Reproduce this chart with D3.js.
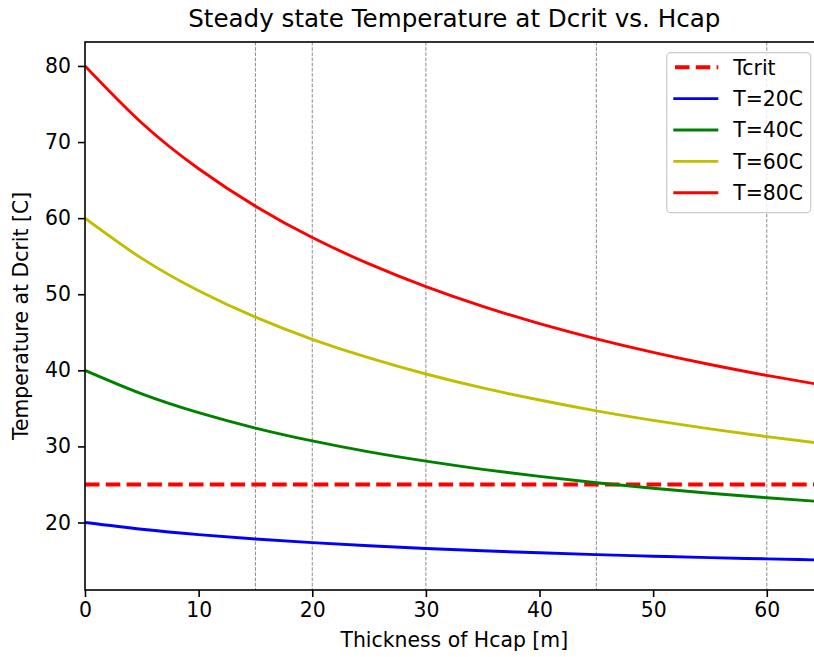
<!DOCTYPE html>
<html>
<head>
<meta charset="utf-8">
<script src="https://cdn.jsdelivr.net/npm/d3@7"></script>
<style>
  html, body { margin: 0; padding: 0; background: #fff; }
  svg { display: block; font-family: "DejaVu Sans", sans-serif; }
</style>
</head>
<body>
<svg id="chart" width="814" height="657"></svg>
<script>
// Hcap thickness samples [m]
const thickness = [0, 5, 10, 15, 20, 25, 30, 35, 40, 45, 50, 55, 60, 65];

// Steady state temperature at Dcrit [C] for each surface temperature
const temp20 = [20.0, 19.12, 18.41, 17.83, 17.35, 16.94, 16.59, 16.28, 16.02, 15.78, 15.57, 15.38, 15.22, 15.06];
const temp40 = [40.0, 36.91, 34.44, 32.41, 30.72, 29.28, 28.06, 26.99, 26.06, 25.23, 24.50, 23.84, 23.25, 22.72];
const temp60 = [60.0, 54.71, 50.46, 46.99, 44.08, 41.63, 39.52, 37.69, 36.10, 34.68, 33.43, 32.30, 31.29, 30.37];
const temp80 = [80.0, 72.50, 66.49, 61.57, 57.45, 53.98, 50.99, 48.40, 46.14, 44.14, 42.36, 40.76, 39.33, 38.03];

const tCrit = 25;
const markerThickness = [15, 20, 30, 45, 60];

const seriesNames = ["T=20C", "T=40C", "T=60C", "T=80C"];
const seriesValues = [temp20, temp40, temp60, temp80];
const seriesColors = ["#0000ff", "#008000", "#bfbf00", "#ff0000"];

const xTicks = [0, 10, 20, 30, 40, 50, 60];
const yTicks = [20, 30, 40, 50, 60, 70, 80];

// ---- layout ----
const svg = d3.select("#chart");
const plot = { left: 85, top: 42, right: 823.6, bottom: 590 };
const fontSize = 20.4;

const x = d3.scaleLinear().domain([0, 65]).range([plot.left, plot.right]);
const y = d3.scaleLinear().domain([11.13, 83.15]).range([plot.bottom, plot.top]);

svg.append("defs").append("clipPath").attr("id", "plot-clip")
  .append("rect")
  .attr("x", plot.left).attr("y", plot.top)
  .attr("width", plot.right - plot.left).attr("height", plot.bottom - plot.top);

const body = svg.append("g").attr("clip-path", "url(#plot-clip)");

// vertical reference lines at selected thicknesses
body.selectAll("line.vref").data(markerThickness).join("line")
  .attr("class", "vref")
  .attr("x1", d => x(d)).attr("x2", d => x(d))
  .attr("y1", plot.top).attr("y2", plot.bottom)
  .attr("stroke", "#808080").attr("stroke-width", 0.9)
  .attr("stroke-dasharray", "3.6,1.6");

// critical temperature
body.append("line")
  .attr("x1", plot.left).attr("x2", plot.right)
  .attr("y1", y(tCrit)).attr("y2", y(tCrit))
  .attr("stroke", "#ff0000").attr("stroke-width", 3.9)
  .attr("stroke-dasharray", "14.5,6.3");

// temperature curves
const line = d3.line()
  .x((d, i) => x(thickness[i]))
  .y(d => y(d))
  .curve(d3.curveNatural);

body.selectAll("path.series").data(seriesValues).join("path")
  .attr("class", "series")
  .attr("d", d => line(d))
  .attr("fill", "none")
  .attr("stroke", (d, i) => seriesColors[i])
  .attr("stroke-width", 2.9);

// ---- axes ----
const xAxis = d3.axisBottom(x).tickValues(xTicks).tickSize(7).tickPadding(6).tickSizeOuter(0);
const yAxis = d3.axisLeft(y).tickValues(yTicks).tickSize(7).tickPadding(7).tickSizeOuter(0);

const gx = svg.append("g").attr("transform", `translate(0,${plot.bottom})`).call(xAxis);
const gy = svg.append("g").attr("transform", `translate(${plot.left},0)`).call(yAxis);

[gx, gy].forEach(g => {
  g.select(".domain").remove();
  g.selectAll(".tick line").attr("stroke", "#000").attr("stroke-width", 1.6);
  g.selectAll(".tick text")
    .attr("fill", "#000")
    .style("font-family", "DejaVu Sans")
    .style("font-size", fontSize + "px");
});

// spines
svg.append("rect")
  .attr("x", plot.left).attr("y", plot.top)
  .attr("width", plot.right - plot.left).attr("height", plot.bottom - plot.top)
  .attr("fill", "none").attr("stroke", "#000").attr("stroke-width", 1.6);

// ---- labels ----
svg.append("text")
  .attr("x", (plot.left + plot.right) / 2).attr("y", 27)
  .attr("text-anchor", "middle")
  .style("font-size", "24.6px")
  .text("Steady state Temperature at Dcrit vs. Hcap");

svg.append("text")
  .attr("x", (plot.left + plot.right) / 2).attr("y", 647)
  .attr("text-anchor", "middle")
  .style("font-size", fontSize + "px")
  .text("Thickness of Hcap [m]");

svg.append("text")
  .attr("transform", `translate(28,${(plot.top + plot.bottom) / 2}) rotate(-90)`)
  .attr("text-anchor", "middle")
  .style("font-size", fontSize + "px")
  .text("Temperature at Dcrit [C]");

// ---- legend ----
const legend = svg.append("g");
legend.append("rect")
  .attr("x", 666.7).attr("y", 52.7)
  .attr("width", 144).attr("height", 160)
  .attr("rx", 4).attr("ry", 4)
  .attr("fill", "#fff").attr("fill-opacity", 0.8)
  .attr("stroke", "#cccccc").attr("stroke-width", 1.2);

const legendItems = [{ name: "Tcrit", color: "#ff0000", dashed: true }]
  .concat(seriesNames.map((n, i) => ({ name: n, color: seriesColors[i], dashed: false })));

const rowY = i => 67.3 + i * 31.35;
const items = legend.selectAll("g.item").data(legendItems).join("g").attr("class", "item");
items.append("line")
  .attr("x1", 673.3).attr("x2", 718.3)
  .attr("y1", (d, i) => rowY(i)).attr("y2", (d, i) => rowY(i))
  .attr("stroke", d => d.color)
  .attr("stroke-width", d => d.dashed ? 3.9 : 2.9)
  .attr("stroke-dasharray", d => d.dashed ? "14.5,6.3" : null)
  .attr("stroke-dashoffset", d => d.dashed ? -1.7 : null);
items.append("text")
  .attr("x", 733.3).attr("y", (d, i) => rowY(i))
  .attr("dy", "0.36em")
  .style("font-size", fontSize + "px")
  .text(d => d.name);
</script>
</body>
</html>
